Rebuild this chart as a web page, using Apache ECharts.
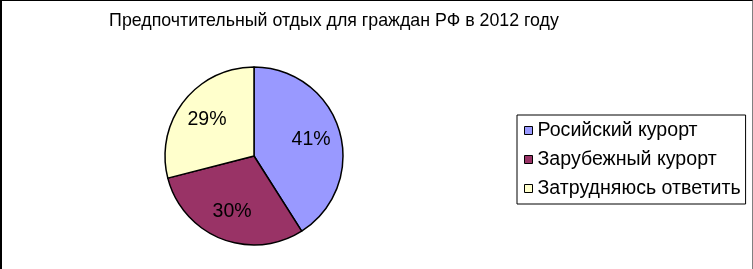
<!DOCTYPE html>
<html>
<head>
<meta charset="utf-8">
<script src="https://cdn.jsdelivr.net/npm/echarts@6/dist/echarts.min.js"></script>
<style>
html,body{margin:0;padding:0;background:#fff;}
#chart{width:753px;height:269px;box-sizing:border-box;border-top:1px solid #000;border-left:2px solid #000;border-right:1px solid #808080;}
</style>
</head>
<body>
<div id="chart"></div>
<script>
const titleText = 'Предпочтительный отдых для граждан РФ в 2012 году';
const categories = ['Росийский курорт', 'Зарубежный курорт', 'Затрудняюсь ответить'];
const values = [41, 30, 29];
const colors = ['#9999FF', '#993366', '#FFFFCC'];

const chart = echarts.init(document.getElementById('chart'), null, {renderer: 'canvas'});
const data = categories.map((c, i) => ({name: c, value: values[i], itemStyle: {color: colors[i]}}));
chart.setOption({
  animation: false,
  title: {
    text: titleText,
    left: 327, top: 6, textAlign: 'center',
    textStyle: {fontFamily: 'Liberation Sans, Arial', fontSize: 17.8, fontWeight: 'normal', color: '#000'}
  },
  legend: {
    orient: 'vertical',
    left: 515, top: 114,
    data: categories,
    itemWidth: 8, itemHeight: 8,
    itemGap: 8,
    padding: [5, 5, 5, 7],
    borderColor: '#000', borderWidth: 1,
    icon: 'rect',
    textStyle: {fontFamily: 'Liberation Sans, Arial', fontSize: 19.6, color: '#000', lineHeight: 21, padding: [0, 0, 0, 0]},
    itemStyle: {borderColor: '#000', borderWidth: 1}
  },
  series: [
    {
      type: 'pie',
      center: [252, 155], radius: [0, 89],
      startAngle: 90, clockwise: true,
      label: {show: false}, labelLine: {show: false},
      itemStyle: {borderColor: '#000', borderWidth: 1.5},
      data: data
    },
    {
      type: 'pie',
      center: [252, 155], radius: [24, 89],
      startAngle: 90, clockwise: true, silent: true,
      legendHoverLink: false,
      itemStyle: {color: 'rgba(0,0,0,0)', borderWidth: 0},
      label: {show: true, position: 'inside', formatter: '{c}%', fontFamily: 'Liberation Sans, Arial', fontSize: 19.5, color: '#000'},
      labelLine: {show: false},
      data: categories.map((c, i) => ({name: c, value: values[i], itemStyle: {color: 'rgba(0,0,0,0)'}}))
    }
  ]
});
</script>
</body>
</html>
